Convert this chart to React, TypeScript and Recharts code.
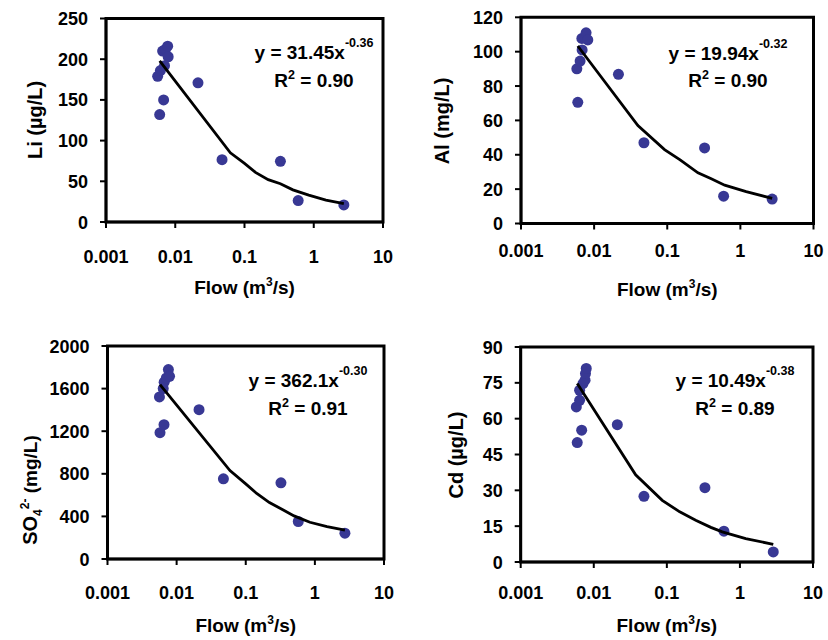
import React from 'react';
import { ScatterChart, Scatter, XAxis, YAxis } from 'recharts';

const FONT = '"Liberation Sans", Arial, Helvetica, sans-serif';
const DOT_COLOR = '#383894';

// shared x axis (log flow)
const flowTicks = [0.001, 0.01, 0.1, 1, 10];
const flowTickLabels = ['0.001', '0.01', '0.1', '1', '10'];
const FLOW_MIN = 0.001;
const FLOW_MAX = 10;

// Li panel
const liFlow = [0.00596, 0.00557, 0.00679, 0.0061, 0.00657, 0.0072, 0.00777, 0.0079, 0.007, 0.0213, 0.0474, 0.33, 0.596, 2.72];
const liConc = [132, 179, 150, 186, 210, 212, 216, 203, 192, 171, 76.5, 74.5, 26.3, 21];
const liFitFlow = [0.00596, 0.0625, 0.1, 0.144, 0.22, 0.33, 0.5, 0.847, 1.5, 2.72];
const liFitConc = [198, 85, 72, 61, 52, 47, 39.5, 33, 27, 22.5];
const liTicks = [0, 50, 100, 150, 200, 250];

// Al panel
const alFlow = [0.00598, 0.0058, 0.00643, 0.00685, 0.0068, 0.0074, 0.00776, 0.00819, 0.0215, 0.048, 0.324, 0.59, 2.72];
const alConc = [70.5, 90, 94.5, 101, 107.7, 108.3, 111, 106.8, 86.8, 47, 44, 15.9, 14.2];
const alFitFlow = [0.00598, 0.0397, 0.0918, 0.15, 0.263, 0.4, 0.61, 1.2, 2.72];
const alFitConc = [103.3, 57, 43, 37, 29.5, 26, 22.3, 18.5, 14.6];
const alTicks = [0, 20, 40, 60, 80, 100, 120];

// SO4 panel
const so4Flow = [0.00575, 0.00657, 0.00564, 0.0064, 0.0066, 0.0071, 0.0076, 0.0079, 0.0211, 0.0475, 0.323, 0.575, 2.72];
const so4Conc = [1186, 1261, 1522, 1600, 1660, 1700, 1779, 1715, 1402, 753, 715, 352, 242];
const so4FitFlow = [0.00575, 0.0591, 0.1, 0.144, 0.22, 0.349, 0.5, 0.847, 1.5, 2.72];
const so4FitConc = [1638, 830, 705, 615, 530, 460, 405, 345, 305, 270];
const so4Ticks = [0, 400, 800, 1200, 1600, 2000];

// Cd panel
const cdFlow = [0.00594, 0.00683, 0.00577, 0.0064, 0.0064, 0.00711, 0.0076, 0.0077, 0.00789, 0.021, 0.0486, 0.332, 0.604, 2.86];
const cdConc = [50, 55.2, 64.9, 67.7, 71.9, 74.7, 76.1, 78.9, 81, 57.5, 27.5, 31.1, 12.9, 4.2];
const cdFitFlow = [0.00594, 0.0374, 0.0865, 0.15, 0.248, 0.4, 0.573, 1.2, 2.86];
const cdFitConc = [74.7, 36.5, 25.8, 21, 17.5, 14.5, 12.6, 9.8, 7.4];
const cdTicks = [0, 15, 30, 45, 60, 75, 90];

const zip = (xs: number[], ys: number[]) => xs.map((x, i) => ({ x, y: ys[i] }));

const W = 414;
const H = 320;
const AXIS_LINE = { stroke: '#000', strokeWidth: 2.5 };

type Cfg = {
  px: number; py: number; l: number; r: number; t: number; b: number;
  yMax: number; yTicks: number[];
  xTickCenter: number; xTitleCenter: number;
  yLabelX: number; yLabelY: number; yLabel: React.ReactNode;
  eqX: number; eqBase: number; r2Base: number; coef: string; expo: string; r2: string;
};

const Dot = (props: any) => {
  const { cx, cy } = props;
  if (cx == null || cy == null) return <g />;
  return <circle cx={cx} cy={cy} r={5.5} fill={DOT_COLOR} />;
};
const NoShape = () => <g />;

function Panel({ cfg, points, trend }: { cfg: Cfg; points: { x: number; y: number }[]; trend: { x: number; y: number }[] }) {
  const { px, py, l, r, t, b } = cfg;
  const xTick = (p: any) => {
    const idx = flowTicks.indexOf(p.payload.value);
    return (
      <text x={p.x} y={cfg.xTickCenter - py + 6.5} textAnchor="middle" fontFamily={FONT} fontWeight="bold" fontSize={18} fill="#000">
        {idx >= 0 ? flowTickLabels[idx] : String(p.payload.value)}
      </text>
    );
  };
  const yTick = (p: any) => (
    <text x={l - px - 18} y={p.y + 6.5} textAnchor="end" fontFamily={FONT} fontWeight="bold" fontSize={18} fill="#000">
      {p.payload.value}
    </text>
  );
  const fl = l - px;
  const fr = r - px;
  const ft = t - py;
  const fb = b - py;
  return (
    <div style={{ position: 'absolute', left: px, top: py, width: W, height: H }}>
      <ScatterChart width={W} height={H} margin={{ top: t - py, right: px + W - r, left: 0, bottom: 0 }}>
        <XAxis
          type="number"
          dataKey="x"
          scale="log"
          domain={[FLOW_MIN, FLOW_MAX]}
          ticks={flowTicks}
          interval={0}
          height={py + H - b}
          axisLine={AXIS_LINE}
          tickLine={{ stroke: '#000', strokeWidth: 2 }}
          tickSize={6}
          tick={xTick}
        />
        <YAxis
          type="number"
          dataKey="y"
          domain={[0, cfg.yMax]}
          ticks={cfg.yTicks}
          interval={0}
          width={l - px}
          axisLine={AXIS_LINE}
          tickLine={{ stroke: '#000', strokeWidth: 2 }}
          tickSize={6}
          tick={yTick}
        />
        <Scatter data={points} shape={Dot} isAnimationActive={false} />
        <Scatter
          data={trend}
          line={{ stroke: '#000', strokeWidth: 2.8 }}
          lineJointType="linear"
          shape={NoShape}
          isAnimationActive={false}
        />
      </ScatterChart>
      <svg width={W} height={H} style={{ position: 'absolute', left: 0, top: 0, pointerEvents: 'none', overflow: 'visible' }}>
        <path
          d={`M ${fl} ${fb} L ${fl} ${ft} L ${fr} ${ft} L ${fr} ${fb} Z`}
          fill="none"
          stroke="#000000"
          strokeWidth={3}
          strokeLinejoin="miter"
        />
        <g fontFamily={FONT} fontWeight="bold" fill="#000">
          <text
            x={cfg.yLabelX - px}
            y={cfg.yLabelY - py + 7}
            textAnchor="middle"
            fontSize={20}
            transform={`rotate(-90, ${cfg.yLabelX - px}, ${cfg.yLabelY - py})`}
          >
            {cfg.yLabel}
          </text>
          <text x={(l + r) / 2 - px} y={cfg.xTitleCenter - py + 6.5} textAnchor="middle" fontSize={19}>
            Flow (m<tspan dy={-8} fontSize={12}>3</tspan><tspan dy={8} fontSize={19}>/s)</tspan>
          </text>
          <text x={cfg.eqX - px} y={cfg.eqBase - py} textAnchor="middle" fontSize={19}>
            y = {cfg.coef}x<tspan dy={-12} fontSize={12.5}>{cfg.expo}</tspan>
          </text>
          <text x={cfg.eqX - px} y={cfg.r2Base - py} textAnchor="middle" fontSize={19}>
            R<tspan dy={-8} fontSize={12.5}>2</tspan><tspan dy={8} fontSize={19}> = {cfg.r2}</tspan>
          </text>
        </g>
      </svg>
    </div>
  );
}

const panels: { cfg: Cfg; points: { x: number; y: number }[]; trend: { x: number; y: number }[] }[] = [
  {
    cfg: {
      px: 0, py: 0, l: 106, r: 383, t: 18.5, b: 222, yMax: 250, yTicks: liTicks,
      xTickCenter: 256.5, xTitleCenter: 287, yLabelX: 35, yLabelY: 120,
      yLabel: 'Li (µg/L)',
      eqX: 314, eqBase: 58.5, r2Base: 87, coef: '31.45', expo: '-0.36', r2: '0.90',
    },
    points: zip(liFlow, liConc),
    trend: zip(liFitFlow, liFitConc),
  },
  {
    cfg: {
      px: 414, py: 0, l: 521, r: 813.5, t: 17.3, b: 223.5, yMax: 120, yTicks: alTicks,
      xTickCenter: 250, xTitleCenter: 289, yLabelX: 442, yLabelY: 121,
      yLabel: 'Al (mg/L)',
      eqX: 728, eqBase: 60, r2Base: 87, coef: '19.94', expo: '-0.32', r2: '0.90',
    },
    points: zip(alFlow, alConc),
    trend: zip(alFitFlow, alFitConc),
  },
  {
    cfg: {
      px: 0, py: 320, l: 107.5, r: 384, t: 346, b: 559, yMax: 2000, yTicks: so4Ticks,
      xTickCenter: 592, xTitleCenter: 625, yLabelX: 30, yLabelY: 490,
      yLabel: (
        <>
          SO<tspan dy={5} fontSize={12}>4</tspan>
          <tspan dy={-13} fontSize={12}>2-</tspan>
          <tspan dy={8} fontSize={19}> (mg/L)</tspan>
        </>
      ),
      eqX: 308, eqBase: 386.7, r2Base: 415, coef: '362.1', expo: '-0.30', r2: '0.91',
    },
    points: zip(so4Flow, so4Conc),
    trend: zip(so4FitFlow, so4FitConc),
  },
  {
    cfg: {
      px: 414, py: 320, l: 520.7, r: 813, t: 347, b: 562, yMax: 90, yTicks: cdTicks,
      xTickCenter: 592, xTitleCenter: 625, yLabelX: 456, yLabelY: 455,
      yLabel: 'Cd (µg/L)',
      eqX: 735, eqBase: 386.7, r2Base: 415, coef: '10.49', expo: '-0.38', r2: '0.89',
    },
    points: zip(cdFlow, cdConc),
    trend: zip(cdFitFlow, cdFitConc),
  },
];

export default function App() {
  return (
    <div style={{ position: 'absolute', left: 0, top: 0, width: 828, height: 640, background: '#fff', overflow: 'hidden' }}>
      {panels.map((p, i) => (
        <Panel key={i} cfg={p.cfg} points={p.points} trend={p.trend} />
      ))}
    </div>
  );
}
